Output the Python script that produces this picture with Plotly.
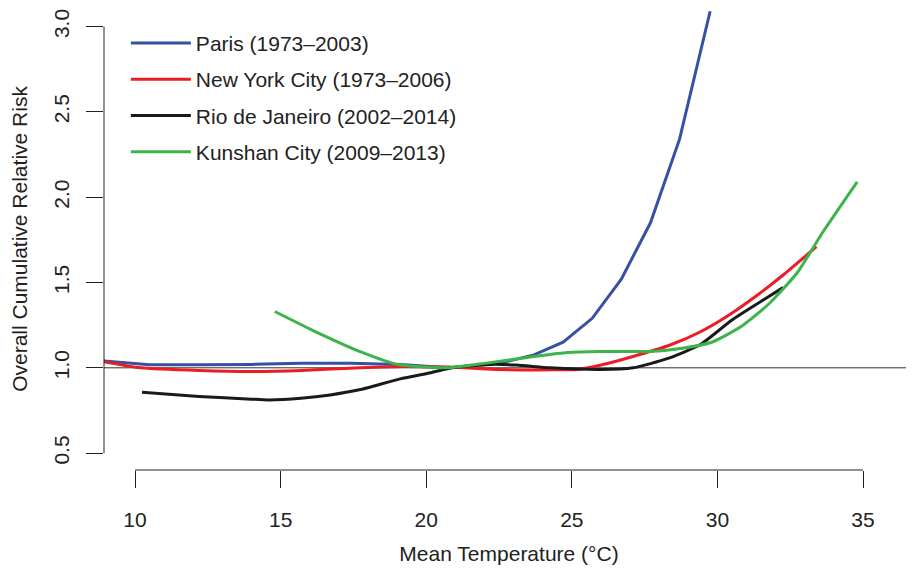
import plotly.graph_objects as go

# ---- data ----
paris_x = [8.9, 10.5, 12.2, 14.0, 15.7, 17.4, 19.1, 20.8, 22.5, 23.7, 24.7, 25.7, 26.7, 27.7, 28.7, 29.75]
paris_y = [1.04, 1.018, 1.018, 1.02, 1.027, 1.027, 1.02, 1.0, 1.026, 1.076, 1.15, 1.29, 1.52, 1.85, 2.34, 3.09]

nyc_x = [8.9, 10.2, 12.2, 14.0, 15.7, 17.4, 19.1, 20.8, 22.5, 24.3, 25.2, 26.0, 27.1, 28.4, 29.4, 30.4, 31.4, 32.3, 33.4]
nyc_y = [1.037, 1.0, 0.984, 0.978, 0.984, 0.998, 1.008, 1.004, 0.99, 0.988, 0.99, 1.016, 1.066, 1.135, 1.21, 1.31, 1.43, 1.55, 1.71]

rio_x = [10.24, 12.2, 14.0, 14.6, 15.7, 16.7, 17.7, 19.1, 20.2, 20.9, 22.2, 23.1, 24.25, 26.0, 27.1, 28.3, 29.4, 30.5, 31.6, 32.25]
rio_y = [0.857, 0.832, 0.816, 0.812, 0.822, 0.841, 0.871, 0.935, 0.973, 1.0, 1.02, 1.016, 1.0, 0.99, 1.0, 1.055, 1.135, 1.28, 1.40, 1.47]

kun_x = [14.8, 16.1, 17.8, 19.0, 20.7, 22.0, 23.7, 24.85, 26.0, 27.7, 28.8, 29.8, 30.8, 31.8, 32.75, 33.6, 34.8]
kun_y = [1.33, 1.22, 1.09, 1.02, 1.0, 1.026, 1.066, 1.09, 1.096, 1.096, 1.115, 1.15, 1.24, 1.38, 1.56, 1.79, 2.09]

names = ["Paris (1973\u20132003)", "New York City (1973\u20132006)",
         "Rio de Janeiro (2002\u20132014)", "Kunshan City (2009\u20132013)"]
colors = ["#3451A3", "#EC1C24", "#1A1A1A", "#3BB44A"]

x_ticks = [10, 15, 20, 25, 30, 35]
y_ticks = [0.5, 1.0, 1.5, 2.0, 2.5, 3.0]
y_ticklabels = ["0.5", "1.0", "1.5", "2.0", "2.5", "3.0"]
ref_y = 1.0

FONT = "Liberation Sans, Arial, Helvetica, sans-serif"
FS = 21

fig = go.Figure()
series = [(paris_x, paris_y, "linear"), (nyc_x, nyc_y, "spline"),
          (rio_x, rio_y, "spline"), (kun_x, kun_y, "spline")]
for i, (xs, ys, shape) in enumerate(series):
    line = dict(color=colors[i], width=3, shape=shape)
    if shape == "spline":
        line["smoothing"] = 0.6
    fig.add_trace(go.Scatter(x=xs, y=ys, mode="lines", name=names[i],
                             legendgroup=f"g{i}", line=line))

# reference line
fig.add_shape(type="line", xref="paper", x0=0, x1=1, yref="y", y0=ref_y, y1=ref_y,
              line=dict(color="#333333", width=1), layer="below")
# R-style axis lines spanning only the tick range
fig.add_shape(type="line", xref="paper", x0=0, x1=0, yref="y", y0=y_ticks[0], y1=y_ticks[-1],
              line=dict(color="#222222", width=1))
fig.add_shape(type="line", xref="x", x0=x_ticks[0], x1=x_ticks[-1], yref="paper", y0=0, y1=0,
              line=dict(color="#222222", width=1))

fig.update_layout(
    width=906, height=560,
    margin=dict(l=96, r=0, t=0, b=98),
    paper_bgcolor="white", plot_bgcolor="white",
    font=dict(family=FONT, size=FS, color="#222222"),
    showlegend=True,
    legend=dict(x=0.027, y=0.968, xanchor="left", yanchor="top",
                bgcolor="rgba(0,0,0,0)", borderwidth=0,
                font=dict(size=FS, family=FONT, color="#222222"),
                tracegroupgap=6, itemwidth=60),
    xaxis=dict(range=[8.935, 36.75], showgrid=False, zeroline=False, showline=False,
               automargin=False,
               tickmode="array", tickvals=x_ticks, ticks="outside", ticklen=17,
               tickcolor="#222222", tickwidth=1, ticklabelstandoff=14,
               tickfont=dict(size=FS),
               title=dict(text="Mean Temperature (\u00b0C)", font=dict(size=FS), standoff=16)),
    yaxis=dict(range=[0.401, 3.109], showgrid=False, zeroline=False, showline=False,
               automargin=False,
               tickmode="array", tickvals=y_ticks, ticktext=y_ticklabels,
               ticks="outside", ticklen=17, tickangle=-90,
               tickcolor="#222222", tickwidth=1, ticklabelstandoff=9,
               tickfont=dict(size=FS),
               title=dict(text="Overall Cumulative Relative Risk", font=dict(size=FS), standoff=27)),
)

fig.write_html("out.html")
